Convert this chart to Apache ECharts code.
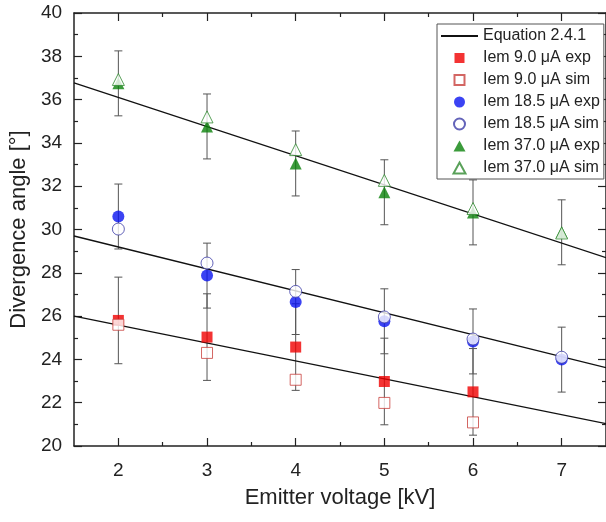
<!DOCTYPE html>
<html>
<head>
<meta charset="utf-8">
<script src="https://cdn.jsdelivr.net/npm/echarts@6/dist/echarts.min.js"></script>
<style>
html, body { margin: 0; padding: 0; background: #fff; }
#chart { width: 606px; height: 522px; }
</style>
</head>
<body>
<div id="chart"></div>
<script>
//*************** data ***************
var volts = [2, 3, 4, 5, 6, 7];
var volts9 = [2, 3, 4, 5, 6];

var exp9 = [25.8, 25.03, 24.57, 22.98, 22.5];
var sim9 = [25.6, 24.3, 23.06, 21.99, 21.09];
var err9 = [2, 2, 2, 2, 2];

var exp18 = [30.6, 27.87, 26.65, 25.76, 24.83, 23.99];
var sim18 = [30.02, 28.45, 27.14, 25.96, 24.94, 24.1];
var err18 = [1.5, 1.5, 1.5, 1.5, 1.5, 1.5];

var exp37 = [36.75, 34.76, 33.05, 31.72, 30.79, 29.87];
var sim37 = [36.93, 35.2, 33.69, 32.27, 30.97, 29.84];
var err37 = [1.5, 1.5, 1.5, 1.5, 1.5, 1.5];

// Equation 2.4.1 lines, end points
var fitX = [1.5, 7.5];
var fit9 = [26.0, 21.03];
var fit18 = [29.7, 23.62];
var fit37 = [36.77, 28.7];

var xMajor = [2, 3, 4, 5, 6, 7];
var xMinor = [2.5, 3.5, 4.5, 5.5, 6.5];

//*************** helpers ***************
var FONT = 'Liberation Sans, Arial, sans-serif';
var LINE_NAME = 'Equation 2.4.1';

// legend icons: the two lone moves pin the box to itemWidth x itemHeight so the mark stays small and centred
var ICON_RECT = 'path://M0,0M37,11M13.5,0.5h10v10h-10Z';
var ICON_CIRCLE = 'path://M0,0M37,11M13,5.5a5.5,5.5 0 1,0 11,0a5.5,5.5 0 1,0 -11,0Z';
var ICON_TRI = 'path://M0,0M37,11M18.5,0L24.5,11L12.5,11Z';

function pairs(xs, ys) {
    var out = [];
    for (var i = 0; i < ys.length; i++) out.push([xs[i], ys[i]]);
    return out;
}

function bars(xs, ys, es) {
    var out = [];
    for (var i = 0; i < ys.length; i++) out.push([xs[i], ys[i] - es[i], ys[i] + es[i]]);
    return out;
}

function renderBar(params, api) {
    var x = api.value(0);
    var lo = api.coord([x, api.value(1)]);
    var hi = api.coord([x, api.value(2)]);
    var w = 4;
    var st = { stroke: '#555', lineWidth: 1 };
    return {
        type: 'group',
        children: [
            { type: 'line', shape: { x1: lo[0], y1: lo[1], x2: hi[0], y2: hi[1] }, style: st },
            { type: 'line', shape: { x1: lo[0] - w, y1: lo[1], x2: lo[0] + w, y2: lo[1] }, style: st },
            { type: 'line', shape: { x1: hi[0] - w, y1: hi[1], x2: hi[0] + w, y2: hi[1] }, style: st }
        ]
    };
}

function errSeries(data) {
    return {
        type: 'custom',
        renderItem: renderBar,
        data: data,
        encode: { x: 0, y: [1, 2] },
        silent: true,
        z: 1
    };
}

function fitSeries(ys) {
    return {
        name: LINE_NAME,
        type: 'line',
        data: pairs(fitX, ys),
        symbol: 'none',
        itemStyle: { color: 'rgba(0,0,0,0)' },
        lineStyle: { color: '#111', width: 1.3 },
        silent: true,
        z: 2
    };
}

function dots(name, xs, ys, symbol, size, style) {
    return {
        name: name,
        type: 'scatter',
        data: pairs(xs, ys),
        symbol: symbol,
        symbolSize: size,
        itemStyle: style,
        z: 3
    };
}

function xAxisDef(pos, ticks, len, showLabel, showLine) {
    return {
        type: 'value',
        position: pos,
        min: 1.5,
        max: 7.5,
        axisLine: { show: showLine, onZero: false, lineStyle: { color: '#222', width: 1.5 } },
        axisTick: { show: true, inside: true, length: len, customValues: ticks, lineStyle: { color: '#222', width: 1.2 } },
        axisLabel: { show: showLabel, customValues: xMajor, fontSize: 19, color: '#222', fontFamily: FONT, margin: 15 },
        splitLine: { show: false }
    };
}

function yAxisDef(pos, showLabel) {
    return {
        type: 'value',
        position: pos,
        min: 20,
        max: 40,
        interval: 2,
        axisLine: { show: true, onZero: false, lineStyle: { color: '#222', width: 1.5 } },
        axisTick: { show: true, inside: true, length: 8, lineStyle: { color: '#222', width: 1.2 } },
        minorTick: { show: true, splitNumber: 2, length: 4, lineStyle: { color: '#222', width: 1.2 } },
        axisLabel: { show: showLabel, fontSize: 19, color: '#222', fontFamily: FONT, margin: 12 },
        splitLine: { show: false },
        name: showLabel ? 'Divergence angle [°]' : '',
        nameLocation: 'middle',
        nameGap: 43,
        nameTextStyle: { fontSize: 22, color: '#222', fontFamily: FONT }
    };
}

//*************** chart ***************
var chart = echarts.init(document.getElementById('chart'), null, { renderer: 'canvas' });

var xMain = xAxisDef('bottom', xMajor, 8, true, true);
xMain.name = 'Emitter voltage [kV]';
xMain.nameLocation = 'middle';
xMain.nameGap = 41;
xMain.nameTextStyle = { fontSize: 22, color: '#222', fontFamily: FONT };

var option = {
    animation: false,
    backgroundColor: '#fff',
    grid: { left: 74, top: 13, right: -6, bottom: 76 },
    xAxis: [
        xMain,
        xAxisDef('bottom', xMinor, 4, false, false),
        xAxisDef('top', xMajor, 8, false, true),
        xAxisDef('top', xMinor, 4, false, false)
    ],
    yAxis: [
        yAxisDef('left', true),
        yAxisDef('right', false)
    ],
    legend: {
        orient: 'vertical',
        left: 437,
        top: 24,
        padding: [4, 4, 3, 3],
        itemWidth: 37,
        itemHeight: 11,
        itemGap: 6,
        selectedMode: false,
        backgroundColor: '#fff',
        borderColor: '#555',
        borderWidth: 1,
        borderRadius: 0,
        textStyle: { fontSize: 16, color: '#222', fontFamily: FONT },
        data: [
            { name: LINE_NAME },
            { name: 'Iem 9.0 μA exp', icon: ICON_RECT },
            { name: 'Iem 9.0 μA sim', icon: ICON_RECT },
            { name: 'Iem 18.5 μA exp', icon: ICON_CIRCLE },
            { name: 'Iem 18.5 μA sim', icon: ICON_CIRCLE },
            { name: 'Iem 37.0 μA exp', icon: ICON_TRI },
            { name: 'Iem 37.0 μA sim', icon: ICON_TRI }
        ],
        z: 10
    },
    series: [
        errSeries(bars(volts9, exp9, err9)),
        errSeries(bars(volts, exp18, err18)),
        errSeries(bars(volts, exp37, err37)),
        fitSeries(fit9),
        fitSeries(fit18),
        fitSeries(fit37),
        dots('Iem 9.0 μA exp', volts9, exp9, 'rect', 11, { color: '#f00000' }),
        dots('Iem 18.5 μA exp', volts, exp18, 'circle', 12, { color: '#0a14f0' }),
        dots('Iem 37.0 μA exp', volts, exp37, 'triangle', 12, { color: '#0a820a' }),
        dots('Iem 9.0 μA sim', volts9, sim9, 'rect', 11, { color: '#fff', borderColor: '#c8403c', borderWidth: 1 }),
        dots('Iem 18.5 μA sim', volts, sim18, 'circle', 12, { color: '#fff', borderColor: '#3c3ca8', borderWidth: 1 }),
        dots('Iem 37.0 μA sim', volts, sim37, 'triangle', 12, { color: '#fff', borderColor: '#2f8a2f', borderWidth: 1 })
    ]
};

chart.setOption(option);
</script>
</body>
</html>
